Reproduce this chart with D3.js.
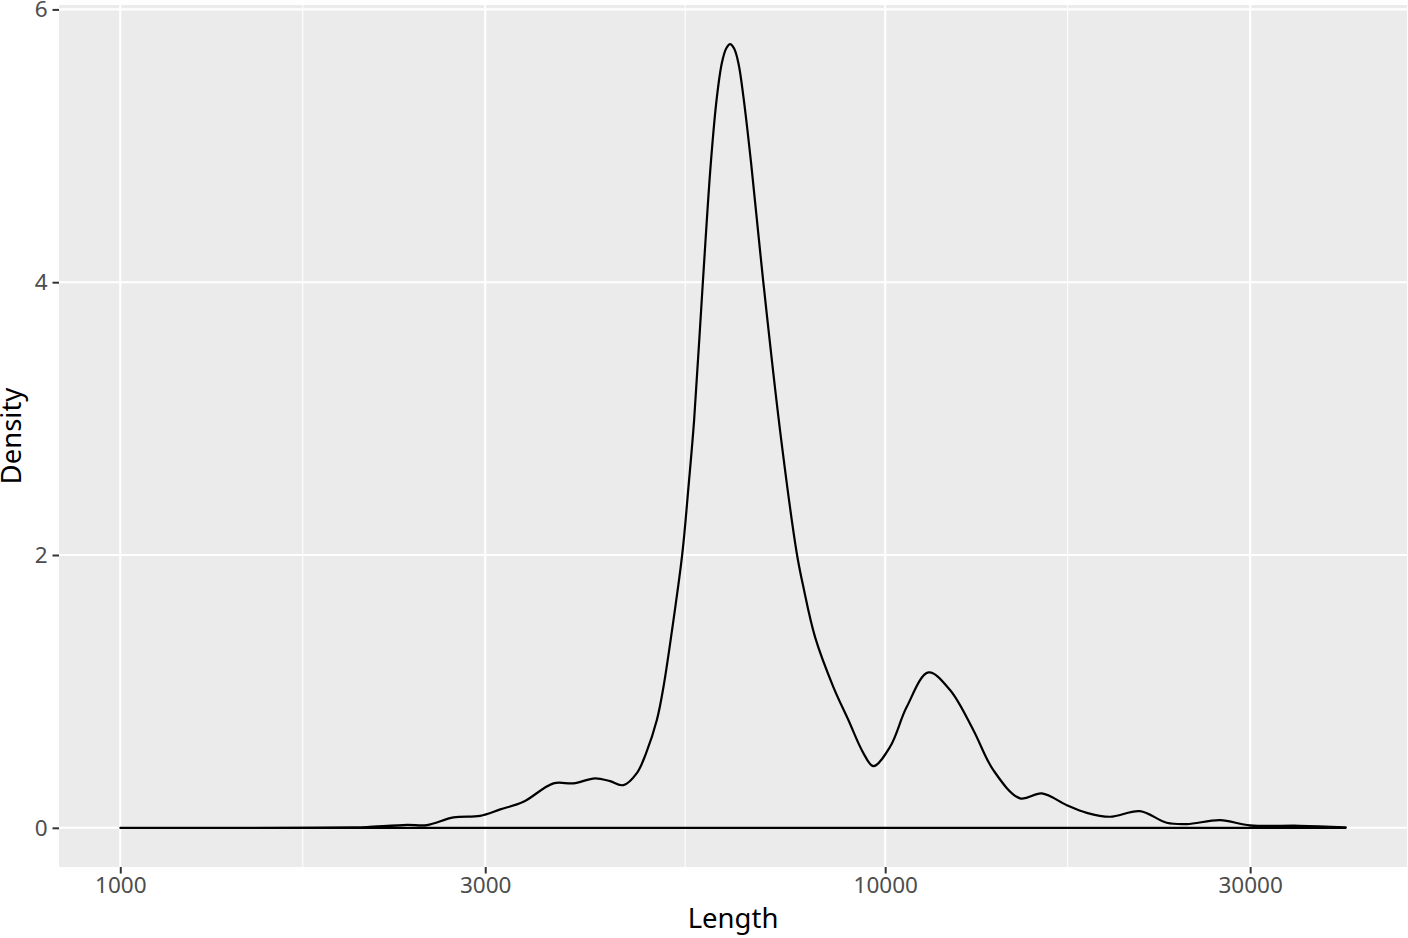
<!DOCTYPE html>
<html>
<head>
<meta charset="utf-8">
<script src="https://cdn.jsdelivr.net/npm/d3@7"></script>
<style>
  html, body { margin: 0; padding: 0; background: #ffffff; }
  svg { display: block; font-family: "Noto Sans", "Open Sans", sans-serif; }
</style>
</head>
<body>
<svg id="chart" width="1408" height="938"></svg>
<script>
// ---- data ----
const lengths = [1000, 1500, 1800, 2000, 2101, 2370, 2517, 2727, 2954, 3139, 3366, 3684, 3913, 4176, 4369, 4548,
  4735, 4869, 5029, 5130, 5287, 5431, 5531, 5626, 5775, 5916, 6025, 6116, 6196, 6270, 6346, 6428, 6527, 6679, 6931,
  7286, 7662, 7817, 8097, 8556, 8951, 9364, 9652, 10148, 10671, 11391, 12155, 13040, 13848,
  15009, 16024, 17276, 18344, 19676, 21532, 23335, 24797, 27400, 30000, 34850, 40000];
const density = [0, 0, 0.001, 0.003, 0.006, 0.022, 0.020, 0.076, 0.088, 0.135, 0.191, 0.326, 0.326, 0.363, 0.342, 0.313,
  0.401, 0.548, 0.790, 1.032, 1.523, 2.015, 2.498, 2.989, 3.994, 4.873, 5.357, 5.607, 5.713, 5.745, 5.713, 5.607, 5.357, 4.873, 3.994,
  2.916, 2.015, 1.765, 1.398, 1.032, 0.790, 0.548, 0.452, 0.594, 0.887, 1.139, 1.010, 0.716, 0.423,
  0.216, 0.252, 0.166, 0.110, 0.081, 0.122, 0.037, 0.027, 0.056, 0.018, 0.015, 0.004];
const xBreaks = [1000, 3000, 10000, 30000];
const xMinorBreaks = [1732, 5477, 17321];
const yBreaks = [0, 2, 4, 6];
const xTitle = "Length";
const yTitle = "Density";

// ---- layout ----
const svg = d3.select("#chart");
const panel = { left: 59, right: 1407, top: 5, bottom: 867 };

const lx0 = Math.log10(d3.min(lengths)), lx1 = Math.log10(d3.max(lengths));
const lxPad = 0.05 * (lx1 - lx0);
const x = d3.scaleLog()
  .domain([Math.pow(10, lx0 - lxPad), Math.pow(10, lx1 + lxPad)])
  .range([panel.left, panel.right]);

const yMax = d3.max(density);
const y = d3.scaleLinear()
  .domain([-0.05 * yMax, 1.05 * yMax])
  .range([panel.bottom, panel.top]);

// panel background
svg.append("rect")
  .attr("x", panel.left).attr("y", panel.top)
  .attr("width", panel.right - panel.left).attr("height", panel.bottom - panel.top)
  .attr("fill", "#EBEBEB");

// minor grid
svg.append("g").selectAll("line").data(xMinorBreaks).join("line")
  .attr("x1", d => x(d)).attr("x2", d => x(d))
  .attr("y1", panel.top).attr("y2", panel.bottom)
  .attr("stroke", "#ffffff").attr("stroke-width", 1.1);

// major grid
svg.append("g").selectAll("line").data(xBreaks).join("line")
  .attr("x1", d => x(d)).attr("x2", d => x(d))
  .attr("y1", panel.top).attr("y2", panel.bottom)
  .attr("stroke", "#ffffff").attr("stroke-width", 2.1);
svg.append("g").selectAll("line").data(yBreaks).join("line")
  .attr("x1", panel.left).attr("x2", panel.right)
  .attr("y1", d => y(d)).attr("y2", d => y(d))
  .attr("stroke", "#ffffff").attr("stroke-width", 2.1);

// density outline (closed polygon, like geom_density)
const pts = lengths.map((v, i) => [v, density[i]]);
const curvePath = d3.line()
  .x(d => x(d[0]))
  .y(d => y(Math.max(0, d[1])))
  .curve(d3.curveCatmullRom.alpha(0.5))(pts);
const closing = "L" + x(lengths[lengths.length - 1]) + "," + y(0) + "L" + x(lengths[0]) + "," + y(0) + "Z";
svg.append("path")
  .attr("d", curvePath + closing)
  .attr("fill", "none")
  .attr("stroke", "#000000")
  .attr("stroke-width", 2.2)
  .attr("stroke-linejoin", "round");

// axes
const fmt = d3.format("d");
const xAxis = d3.axisBottom(x).tickValues(xBreaks).tickFormat(fmt).tickSize(6.5).tickPadding(4);
const gx = svg.append("g").attr("transform", `translate(0,${panel.bottom})`).call(xAxis);
gx.select(".domain").remove();
gx.selectAll(".tick line").attr("stroke", "#333333").attr("stroke-width", 2);
gx.selectAll(".tick text").attr("fill", "#4D4D4D").attr("font-size", 22.5)
  .attr("font-family", "'Noto Sans', sans-serif");

const yAxis = d3.axisLeft(y).tickValues(yBreaks).tickFormat(fmt).tickSize(6.5).tickPadding(5);
const gy = svg.append("g").attr("transform", `translate(${panel.left},0)`).call(yAxis);
gy.select(".domain").remove();
gy.selectAll(".tick line").attr("stroke", "#333333").attr("stroke-width", 2);
gy.selectAll(".tick text").attr("fill", "#4D4D4D").attr("font-size", 22.5)
  .attr("font-family", "'Noto Sans', sans-serif");

// axis titles
svg.append("text")
  .attr("x", (panel.left + panel.right) / 2).attr("y", 928)
  .attr("text-anchor", "middle").attr("font-size", 27.5).attr("fill", "#000000")
  .text(xTitle);
svg.append("text")
  .attr("transform", `translate(21,${(panel.top + panel.bottom) / 2}) rotate(-90)`)
  .attr("text-anchor", "middle").attr("font-size", 27.5).attr("fill", "#000000")
  .text(yTitle);
</script>
</body>
</html>
